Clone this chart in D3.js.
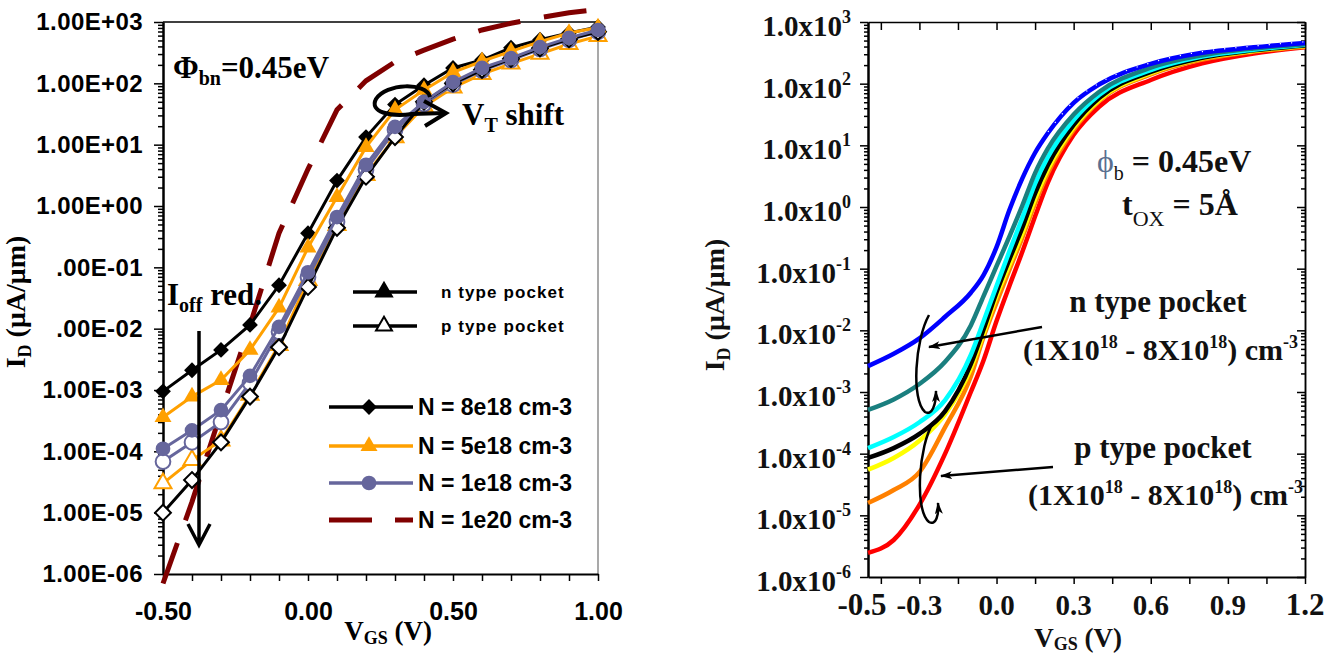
<!DOCTYPE html>
<html>
<head>
<meta charset="utf-8">
<script src="https://cdn.jsdelivr.net/npm/d3@7"></script>
<style>
  body { margin: 0; background: #fff; }
  svg { display: block; }
</style>
</head>
<body>
<script>
// ---------- left panel data, I_D in uA/um ----------
const VGS_L = [-0.5, -0.4, -0.3, -0.2, -0.1, 0.0, 0.1, 0.2, 0.3, 0.4, 0.5, 0.6, 0.7, 0.8, 0.9, 1.0];
const N8E18_N = [9.5e-4, 2.1e-3, 4.5e-3, 1.15e-2, 5.1e-2, 0.36, 2.6, 13.3, 45, 93, 178, 240, 380, 513, 661, 832];
const N8E18_P = [1.0e-5, 3.4e-5, 1.4e-4, 7.8e-4, 5.0e-3, 4.8e-2, 0.44, 3.0, 13.3, 50, 100, 166, 251, 372, 525, 692];
const N5E18_N = [3.6e-4, 7.8e-4, 1.45e-3, 4.5e-3, 2.2e-2, 0.21, 1.4, 9.1, 37, 78, 151, 229, 331, 479, 661, 813];
const N5E18_P = [3.0e-5, 7.2e-5, 1.5e-4, 8.3e-4, 5.4e-3, 6.2e-2, 0.49, 3.2, 13.2, 42, 85, 141, 209, 302, 437, 589];
const N1E18_N = [1.1e-4, 2.2e-4, 4.7e-4, 1.7e-3, 1.07e-2, 8.3e-2, 0.66, 4.7, 19.5, 50, 105, 178, 257, 389, 550, 741];
const N1E18_P = [6.8e-5, 1.4e-4, 3.0e-4, 1.3e-3, 8.9e-3, 6.9e-2, 0.55, 3.9, 17.4, 46, 95, 162, 240, 363, 513, 692];
const N1E20 = [7e-7, 1.5e-5, 4.3e-4, 1.15e-2, 0.36, 4.0, 37, 110, 224, 347, 525, 741, 955, 1175, 1410, 1600];

const Y_DECADES = [1e-6, 1e-5, 1e-4, 1e-3, 1e-2, 1e-1, 1e0, 1e1, 1e2, 1e3];
const Y_LABELS_L = ["1.00E-06", "1.00E-05", "1.00E-04", "1.00E-03", ".00E-02", ".00E-01",
  "1.00E+00", "1.00E+01", "1.00E+02", "1.00E+03"];
const X_TICKS_L = [-0.5, -0.4, -0.3, -0.2, -0.1, 0, 0.1, 0.2, 0.3, 0.4, 0.5, 0.6, 0.7, 0.8, 0.9, 1.0];
const X_LABEL_VALS_L = [-0.5, 0, 0.5, 1.0];
const X_LABELS_L = ["-0.50", "0.00", "0.50", "1.00"];
const LEGEND_L = ["N = 8e18 cm-3", "N = 5e18 cm-3", "N = 1e18 cm-3", "N = 1e20 cm-3"];

// ---------- right panel data, log10(I_D) ----------
const VGS_R = [-0.5, -0.4, -0.3, -0.2, -0.1, -0.05, 0, 0.05, 0.1, 0.15, 0.2, 0.3, 0.4, 0.6, 0.8, 1.0, 1.2];
const LOG_BLUE   = [-2.58, -2.38, -2.13, -1.78, -1.39, -1.10, -0.65, -0.05, 0.46, 0.88, 1.20, 1.69, 1.99, 2.32, 2.50, 2.59, 2.66];
const LOG_TEAL   = [-3.29, -3.12, -2.87, -2.51, -1.92, -1.44, -0.96, -0.48, 0.02, 0.55, 0.95, 1.50, 1.87, 2.26, 2.46, 2.57, 2.64];
const LOG_CYAN   = [-3.91, -3.73, -3.49, -3.13, -2.40, -1.85, -1.28, -0.72, -0.18, 0.38, 0.81, 1.41, 1.82, 2.22, 2.44, 2.55, 2.63];
const LOG_BLACK  = [-4.07, -3.91, -3.68, -3.31, -2.55, -1.98, -1.38, -0.85, -0.34, 0.22, 0.68, 1.33, 1.77, 2.19, 2.42, 2.54, 2.62];
const LOG_YELLOW = [-4.26, -4.07, -3.79, -3.36, -2.62, -2.05, -1.45, -0.94, -0.43, 0.13, 0.61, 1.29, 1.74, 2.17, 2.41, 2.53, 2.61];
const LOG_ORANGE = [-4.80, -4.59, -4.30, -3.57, -2.75, -2.10, -1.55, -1.02, -0.50, 0.06, 0.55, 1.25, 1.72, 2.15, 2.39, 2.52, 2.60];
const LOG_RED    = [-5.61, -5.40, -4.83, -4.00, -3.00, -2.48, -1.85, -1.28, -0.73, -0.15, 0.40, 1.17, 1.63, 2.06, 2.33, 2.49, 2.59];

const Y_EXP_R = ["-6", "-5", "-4", "-3", "-2", "-1", "0", "1", "2", "3"];
const X_TICKS_R = [-0.45, -0.3, -0.15, 0, 0.15, 0.3, 0.45, 0.6, 0.75, 0.9, 1.05, 1.2];
const X_LABEL_VALS_R = [-0.5, -0.3, 0, 0.3, 0.6, 0.9, 1.2];
const X_LABELS_R = ["-0.5", "-0.3", "0.0", "0.3", "0.6", "0.9", "1.2"];

const SANS = "'Liberation Sans', Arial, sans-serif";
const SERIF = "'Liberation Serif', 'Times New Roman', serif";

const svg = d3.select("body").append("svg")
  .attr("width", 1338)
  .attr("height", 660);

// text with sub/superscript parts
function rich(text, parts, small, shift) {
  let cur = 0;
  parts.forEach(p => {
    const off = p.sub ? shift : p.sup ? -shift : 0;
    text.append("tspan")
      .attr("dy", off - cur)
      .attr("font-size", p.sub || p.sup ? small : null)
      .attr("font-weight", p.weight || null)
      .attr("fill", p.fill || null)
      .text(p.t);
    cur = off;
  });
}

function minorTicks(decades) {
  const out = [];
  decades.slice(0, -1).forEach(d => {
    for (let k = 2; k <= 9; k++) out.push(d * k);
  });
  return out;
}

function styleAxis(g, width) {
  g.select(".domain").attr("stroke", "#000").attr("stroke-width", width);
  g.selectAll(".tick line").attr("stroke", "#000").attr("stroke-width", 1.5);
}

// ================= LEFT PANEL =================
const xL = d3.scaleLinear().domain([-0.5, 1.0]).range([163, 598]);
const yL = d3.scaleLog().domain([1e-6, 1e3]).range([574, 22]);

// frame
svg.append("line")
  .attr("x1", xL(-0.5)).attr("x2", xL(1.0))
  .attr("y1", yL(1e3)).attr("y2", yL(1e3))
  .attr("stroke", "#000").attr("stroke-width", 1.5);
svg.append("line")
  .attr("x1", xL(1.0)).attr("x2", xL(1.0))
  .attr("y1", yL(1e3)).attr("y2", yL(1e-6))
  .attr("stroke", "#8c8c8c").attr("stroke-width", 1.5);

svg.append("g")
  .attr("transform", `translate(${xL(-0.5)},0)`)
  .call(d3.axisLeft(yL).tickValues(minorTicks(Y_DECADES)).tickSize(5).tickSizeOuter(0).tickFormat(""))
  .call(g => styleAxis(g, 2));

svg.append("g")
  .attr("transform", `translate(${xL(-0.5)},0)`)
  .call(d3.axisLeft(yL).tickValues(Y_DECADES).tickSize(9).tickPadding(11).tickSizeOuter(0)
    .tickFormat((d, i) => Y_LABELS_L[i]))
  .call(g => styleAxis(g, 2))
  .call(g => g.selectAll("text")
    .attr("font-family", SANS).attr("font-weight", "bold")
    .attr("font-size", 24).attr("letter-spacing", 0.4).attr("fill", "#000"));

svg.append("g")
  .attr("transform", `translate(0,${yL(1e-6)})`)
  .call(d3.axisBottom(xL).tickValues(X_TICKS_L).tickSize(7).tickPadding(21).tickSizeOuter(0)
    .tickFormat(d => {
      const i = X_LABEL_VALS_L.findIndex(v => Math.abs(v - d) < 1e-9);
      return i < 0 ? "" : X_LABELS_L[i];
    }))
  .call(g => styleAxis(g, 2))
  .call(g => g.selectAll("text")
    .attr("font-family", SANS).attr("font-weight", "bold")
    .attr("font-size", 25).attr("fill", "#000"));

// axis titles
svg.append("text")
  .attr("transform", "translate(25,302) rotate(-90)")
  .attr("text-anchor", "middle")
  .attr("font-family", SERIF).attr("font-weight", "bold").attr("font-size", 28)
  .call(t => rich(t, [{ t: "I" }, { t: "D", sub: true }, { t: " (μA/μm)" }], 18, 6));

svg.append("text")
  .attr("x", 388).attr("y", 640)
  .attr("text-anchor", "middle")
  .attr("font-family", SERIF).attr("font-weight", "bold").attr("font-size", 27)
  .call(t => rich(t, [{ t: "V" }, { t: "GS", sub: true }, { t: " (V)" }], 18, 4));

// series
const lineL = d3.line().x(d => xL(d[0])).y(d => yL(d[1]));
const zip = (xs, ys) => xs.map((x, i) => [x, ys[i]]);

const C_BLACK = "#000000", C_ORANGE = "#ffa000", C_SLATE = "#66669c", C_DRED = "#800000";

svg.append("path")
  .attr("d", lineL(zip(VGS_L, N1E20)))
  .attr("fill", "none").attr("stroke", C_DRED).attr("stroke-width", 5)
  .attr("stroke-dasharray", "43,24");

const symDiamond = d3.symbol(d3.symbolSquare, 125);
const symTriangle = d3.symbol(d3.symbolTriangle, 125);
const symCircle = d3.symbol(d3.symbolCircle, 170);

const seriesL = [
  { vals: N5E18_P, color: C_ORANGE, sym: symTriangle, rot: 0, open: true },
  { vals: N1E18_P, color: C_SLATE, sym: symCircle, rot: 0, open: true },
  { vals: N8E18_P, color: C_BLACK, sym: symDiamond, rot: 45, open: true },
  { vals: N8E18_N, color: C_BLACK, sym: symDiamond, rot: 45, open: false },
  { vals: N5E18_N, color: C_ORANGE, sym: symTriangle, rot: 0, open: false },
  { vals: N1E18_N, color: C_SLATE, sym: symCircle, rot: 0, open: false }
];

seriesL.forEach(s => {
  const pts = zip(VGS_L, s.vals);
  svg.append("path")
    .attr("d", lineL(pts))
    .attr("fill", "none").attr("stroke", s.color).attr("stroke-width", 3);
  svg.append("g").selectAll("path")
    .data(pts)
    .join("path")
    .attr("d", s.sym)
    .attr("transform", d => `translate(${xL(d[0])},${yL(d[1])}) rotate(${s.rot})`)
    .attr("fill", s.open ? "#fff" : s.color)
    .attr("stroke", s.open ? s.color : "none")
    .attr("stroke-width", 2);
});

// annotations left
svg.append("text")
  .attr("x", 173).attr("y", 78)
  .attr("font-family", SERIF).attr("font-weight", "bold").attr("font-size", 31)
  .call(t => rich(t, [{ t: "Φ" }, { t: "bn", sub: true }, { t: "=0.45eV" }], 20, 7));

svg.append("text")
  .attr("x", 462).attr("y", 125)
  .attr("font-family", SERIF).attr("font-weight", "bold").attr("font-size", 31)
  .call(t => rich(t, [{ t: "V" }, { t: "T", sub: true }, { t: " shift" }], 20, 7));

svg.append("text")
  .attr("x", 167).attr("y", 305)
  .attr("font-family", SERIF).attr("font-weight", "bold").attr("font-size", 31)
  .call(t => rich(t, [{ t: "I" }, { t: "off", sub: true }, { t: " red." }], 20, 7));

// V_T shift loop arrow
svg.append("path")
  .attr("d", "M430,97 C426,82 386,83 376,99 C369,112 390,117 412,114 L445,113")
  .attr("fill", "none").attr("stroke", "#000").attr("stroke-width", 4);
svg.append("path")
  .attr("d", "M424,101 L446,113 L425,126")
  .attr("fill", "none").attr("stroke", "#000").attr("stroke-width", 4);

// I_off arrow
svg.append("path")
  .attr("d", "M199,331 L199,544 M188,524 L199,545 L210,524")
  .attr("fill", "none").attr("stroke", "#000").attr("stroke-width", 3.5);

// pocket-type legend
[{ y: 292, open: false, label: "n type pocket" }, { y: 326, open: true, label: "p type pocket" }].forEach(r => {
  svg.append("line")
    .attr("x1", 353).attr("x2", 417).attr("y1", r.y).attr("y2", r.y)
    .attr("stroke", "#000").attr("stroke-width", 3.5);
  svg.append("path")
    .attr("d", d3.symbol(d3.symbolTriangle, 110)())
    .attr("transform", `translate(384,${r.y})`)
    .attr("fill", r.open ? "#fff" : "#000")
    .attr("stroke", "#000").attr("stroke-width", 2);
  svg.append("text")
    .attr("x", 441).attr("y", r.y + 6)
    .attr("font-family", SANS).attr("font-weight", "bold").attr("font-size", 17)
    .attr("letter-spacing", 1.1)
    .text(r.label);
});

// concentration legend
const legendRows = [
  { color: C_BLACK, sym: symDiamond, rot: 45, dash: null },
  { color: C_ORANGE, sym: symTriangle, rot: 0, dash: null },
  { color: C_SLATE, sym: symCircle, rot: 0, dash: null },
  { color: C_DRED, sym: null, rot: 0, dash: "43,23" }
];
const LEG_Y = [407, 446, 483, 520];
legendRows.forEach((r, i) => {
  const y = LEG_Y[i];
  svg.append("line")
    .attr("x1", 329).attr("x2", 413).attr("y1", y).attr("y2", y)
    .attr("stroke", r.color).attr("stroke-width", r.dash ? 5 : 3.5)
    .attr("stroke-dasharray", r.dash);
  if (r.sym) {
    svg.append("path")
      .attr("d", r.sym())
      .attr("transform", `translate(369,${y}) rotate(${r.rot})`)
      .attr("fill", r.color);
  }
  svg.append("text")
    .attr("x", 418).attr("y", y + 8)
    .attr("font-family", SANS).attr("font-weight", "bold").attr("font-size", 23)
    .text(LEGEND_L[i]);
});

// ================= RIGHT PANEL =================
const xR = d3.scaleLinear().domain([-0.5, 1.2]).range([868, 1305]);
const yR = d3.scaleLog().domain([1e-6, 1e3]).range([577, 22]);

svg.append("g")
  .attr("transform", `translate(0,${yR(1e3)})`)
  .call(d3.axisTop(xR).tickValues(X_TICKS_R).tickSizeInner(-8).tickSizeOuter(0).tickFormat(""))
  .call(g => styleAxis(g, 1.5));
svg.append("g")
  .attr("transform", `translate(0,${yR(1e-6)})`)
  .call(d3.axisBottom(xR).tickValues(X_TICKS_R).tickSize(7).tickSizeOuter(0).tickFormat(""))
  .call(g => styleAxis(g, 2));

[xR(-0.5), xR(1.2)].forEach((x, k) => {
  svg.append("g")
    .attr("transform", `translate(${x},0)`)
    .call(d3.axisLeft(yR).tickValues(minorTicks(Y_DECADES)).tickSize(4).tickSizeOuter(0).tickFormat(""))
    .call(g => styleAxis(g, k === 0 ? 2 : 1.5));
  svg.append("g")
    .attr("transform", `translate(${x},0)`)
    .call(d3.axisLeft(yR).tickValues(Y_DECADES).tickSize(8).tickSizeOuter(0).tickFormat(""))
    .call(g => styleAxis(g, k === 0 ? 2 : 1.5));
});

// y tick labels 1.0x10^n
svg.append("g").selectAll("text")
  .data(Y_DECADES)
  .join("text")
  .attr("x", 851)
  .attr("y", d => yR(d) + 14)
  .attr("text-anchor", "end")
  .attr("font-family", SERIF).attr("font-weight", "bold").attr("font-size", 29)
  .attr("fill", "#111")
  .each(function (d, i) {
    rich(d3.select(this), [{ t: "1.0x10" }, { t: Y_EXP_R[i], sup: true }], 18, 13);
  });

// x tick labels
svg.append("g").selectAll("text")
  .data(X_LABEL_VALS_R)
  .join("text")
  .attr("x", d => xR(d))
  .attr("dx", (d, i) => (i === 0 ? -6 : 0))
  .attr("y", 615)
  .attr("text-anchor", "middle")
  .attr("font-family", SERIF).attr("font-weight", "bold")
  .attr("font-size", (d, i) => (i === 0 || i === X_LABELS_R.length - 1 ? 31 : 29))
  .attr("fill", "#111")
  .text((d, i) => X_LABELS_R[i]);

svg.append("text")
  .attr("transform", "translate(724,305) rotate(-90)")
  .attr("text-anchor", "middle")
  .attr("font-family", SERIF).attr("font-weight", "bold").attr("font-size", 28)
  .attr("fill", "#111")
  .call(t => rich(t, [{ t: "I" }, { t: "D", sub: true }, { t: " (μA/μm)" }], 18, 6));

svg.append("text")
  .attr("x", 1078).attr("y", 647)
  .attr("text-anchor", "middle")
  .attr("font-family", SERIF).attr("font-weight", "bold").attr("font-size", 27)
  .attr("fill", "#111")
  .call(t => rich(t, [{ t: "V" }, { t: "GS", sub: true }, { t: " (V)" }], 18, 3));

// curves
const lineR = d3.line()
  .x(d => xR(d[0]))
  .y(d => yR(Math.pow(10, d[1])))
  .curve(d3.curveMonotoneX);

const seriesR = [
  { vals: LOG_RED, color: "#ff0000" },
  { vals: LOG_ORANGE, color: "#ff8000" },
  { vals: LOG_YELLOW, color: "#ffff00" },
  { vals: LOG_BLACK, color: "#000000" },
  { vals: LOG_CYAN, color: "#00ffff" },
  { vals: LOG_TEAL, color: "#1a7f7f" },
  { vals: LOG_BLUE, color: "#0000ff" }
];
seriesR.forEach(s => {
  svg.append("path")
    .attr("d", lineR(zip(VGS_R, s.vals)))
    .attr("fill", "none").attr("stroke", s.color).attr("stroke-width", 4.5);
});

// faint white dots riding on the blue curve near saturation
svg.append("path")
  .attr("d", lineR(zip(VGS_R, LOG_BLUE).filter(d => d[0] >= 0.2)))
  .attr("transform", "translate(0,-1.2)")
  .attr("fill", "none").attr("stroke", "#fff").attr("stroke-width", 1.2)
  .attr("stroke-dasharray", "1.2,10");

// annotations right
const defs = svg.append("defs");
defs.append("marker")
  .attr("id", "head").attr("viewBox", "0 0 12 8")
  .attr("refX", 11).attr("refY", 4)
  .attr("markerWidth", 12).attr("markerHeight", 8)
  .attr("markerUnits", "userSpaceOnUse").attr("orient", "auto")
  .append("path").attr("d", "M0,0 L12,4 L0,8 L3,4 z").attr("fill", "#000");

[
  "M1042,327 L929,347",
  "M1053,467 L941,476",
  "M929,315 C915,340 911,400 925,412 C932,416 936,405 936,391",
  "M933,423 C919,445 914,510 929,522 C936,526 939,515 938,503"
].forEach(d => {
  svg.append("path")
    .attr("d", d)
    .attr("fill", "none").attr("stroke", "#000").attr("stroke-width", 2.5)
    .attr("marker-end", "url(#head)");
});

svg.append("text")
  .attr("x", 1097).attr("y", 172)
  .attr("font-family", SERIF).attr("font-weight", "bold").attr("font-size", 32)
  .attr("fill", "#111")
  .call(t => rich(t, [{ t: "ϕ", weight: "normal", fill: "#5a6f90" }, { t: "b", sub: true, weight: "normal" }, { t: " = 0.45eV" }], 20, 8));

svg.append("text")
  .attr("x", 1122).attr("y", 215)
  .attr("font-family", SERIF).attr("font-weight", "bold").attr("font-size", 32)
  .attr("fill", "#111")
  .call(t => rich(t, [{ t: "t" }, { t: "OX", sub: true, weight: "normal" }, { t: " = 5Å" }], 22, 11));

[
  { y: 312, cx: 1158, label: "n type pocket" },
  { y: 458, cx: 1163, label: "p type pocket" }
].forEach(r => {
  svg.append("text")
    .attr("x", r.cx).attr("y", r.y)
    .attr("text-anchor", "middle")
    .attr("font-family", SERIF).attr("font-weight", "bold").attr("font-size", 31)
    .attr("fill", "#111")
    .text(r.label);
});

[{ x: 1023, y: 360 }, { x: 1028, y: 505 }].forEach(r => {
  svg.append("text")
    .attr("x", r.x).attr("y", r.y)
    .attr("font-family", SERIF).attr("font-weight", "bold").attr("font-size", 30)
    .attr("fill", "#111")
    .call(t => rich(t, [
      { t: "(1X10" }, { t: "18", sup: true }, { t: " - 8X10" }, { t: "18", sup: true },
      { t: ") cm" }, { t: "-3", sup: true }
    ], 18, 12));
});
</script>
</body>
</html>
